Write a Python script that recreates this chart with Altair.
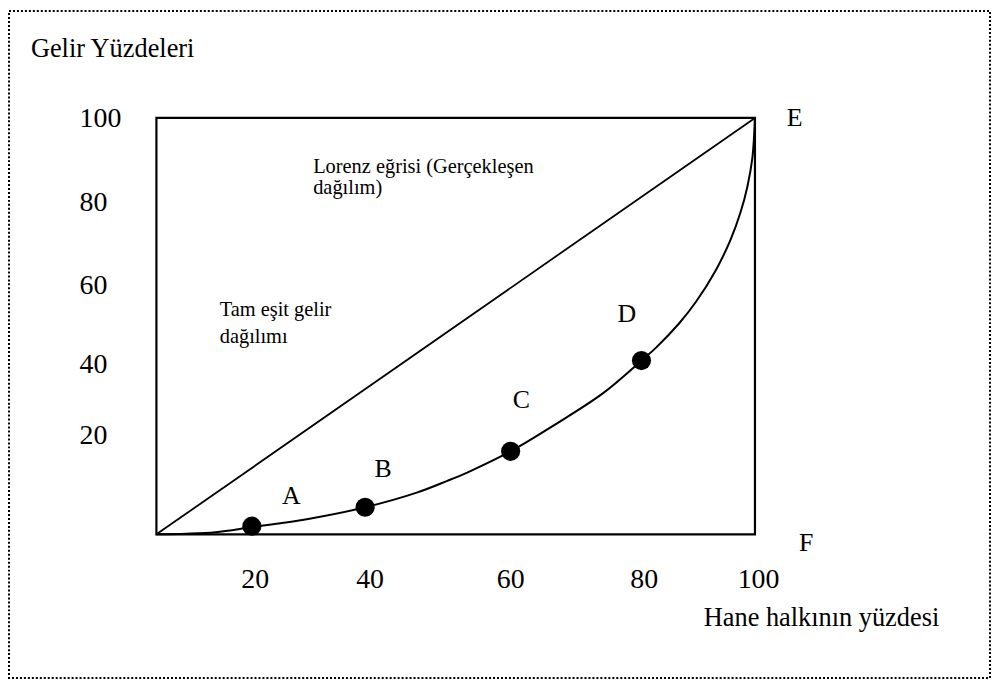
import altair as alt
import pandas as pd

FONT = "Liberation Serif"

# Lorenz curve marked points
point_names = ["A", "B", "C", "D"]
point_x = [15.94, 34.87, 59.18, 81.04]
point_y = [1.96, 6.49, 19.93, 41.72]

# Lorenz curve (realised distribution)
curve_x = [0, 5.0, 9.86, 16.0, 25.36, 34.87, 43.62, 48.6, 51.93, 59.18, 66.87, 74.63, 81.04,
           83.48, 87.35, 90.12, 93.44, 95.93, 97.59, 98.75, 99.58, 100]
curve_y = [0, 0.15, 0.52, 1.75, 3.7, 6.49, 10.07, 12.84, 14.84, 19.93, 26.6, 33.9, 41.72,
           44.84, 50.69, 55.78, 63.37, 70.79, 77.33, 83.6, 90.5, 100]

# Perfect equality line
equal_x = [0, 100]
equal_y = [0, 100]

# Tick labels (as drawn in the figure)
y_tick_labels = ["100", "80", "60", "40", "20"]
y_tick_pos = [97.7, 77.6, 57.8, 38.7, 21.6]
x_tick_labels = ["20", "40", "60", "80", "100"]
x_tick_pos = [16.5, 35.7, 59.2, 81.5, 100.6]

# Letter labels
letter_names = ["A", "B", "C", "D", "E", "F"]
letter_x = [22.53, 37.89, 60.98, 78.61, 106.64, 108.55]
letter_y = [7.28, 13.72, 30.43, 51.03, 97.97, -3.94]

# Axis titles
title_texts = ["Gelir Yüzdeleri", "Hane halkının yüzdesi"]
title_x = [-20.97, 91.45]
title_y = [114.7, -22.1]

# Annotations
note_texts = ["Lorenz eğrisi (Gerçekleşen", "dağılım)", "Tam eşit gelir", "dağılımı"]
note_x = [26.19, 26.19, 10.58, 10.58]
note_y = [86.75, 81.67, 52.46, 46.01]

xs = alt.Scale(domain=[-24.63, 139.27], nice=False, zero=False)
ys = alt.Scale(domain=[-34.49, 125.66], nice=False, zero=False)


def X(f="x"):
    return alt.X(f"{f}:Q", scale=xs, axis=None)


def Y(f="y"):
    return alt.Y(f"{f}:Q", scale=ys, axis=None)


box_df = pd.DataFrame({"x": [0], "x2": [100], "y": [0], "y2": [100]})
box = alt.Chart(box_df).mark_rect(filled=False, stroke="black", strokeWidth=2.2).encode(
    x=X(), x2="x2:Q", y=Y(), y2="y2:Q"
)

equal = alt.Chart(pd.DataFrame({"x": equal_x, "y": equal_y})).mark_line(
    color="black", strokeWidth=1.8
).encode(x=X(), y=Y())

curve = alt.Chart(pd.DataFrame({"x": curve_x, "y": curve_y, "o": list(range(len(curve_x)))})).mark_line(
    color="black", strokeWidth=2, interpolate="catmull-rom"
).encode(x=X(), y=Y(), order="o:Q")

points = alt.Chart(pd.DataFrame({"x": point_x, "y": point_y, "n": point_names})).mark_circle(
    color="black", opacity=1, size=370
).encode(x=X(), y=Y())

ytick = alt.Chart(pd.DataFrame({"x": [-12.84] * 5, "y": y_tick_pos, "t": y_tick_labels})).mark_text(
    font=FONT, fontSize=28, align="left", baseline="alphabetic", color="black"
).encode(x=X(), y=Y(), text="t:N")

xtick = alt.Chart(pd.DataFrame({"x": x_tick_pos, "y": [-13.0] * 5, "t": x_tick_labels})).mark_text(
    font=FONT, fontSize=28, align="center", baseline="alphabetic", color="black"
).encode(x=X(), y=Y(), text="t:N")

letters = alt.Chart(pd.DataFrame({"x": letter_x, "y": letter_y, "t": letter_names})).mark_text(
    font=FONT, fontSize=26, align="center", baseline="alphabetic", color="black"
).encode(x=X(), y=Y(), text="t:N")

titles = alt.Chart(pd.DataFrame({"x": title_x, "y": title_y, "t": title_texts})).mark_text(
    font=FONT, fontSize=26.5, align="left", baseline="alphabetic", color="black"
).encode(x=X(), y=Y(), text="t:N")

notes = alt.Chart(pd.DataFrame({"x": note_x, "y": note_y, "t": note_texts})).mark_text(
    font=FONT, fontSize=20.5, align="left", baseline="alphabetic", color="black"
).encode(x=X(), y=Y(), text="t:N")

chart = alt.layer(box, equal, curve, points, ytick, xtick, letters, titles, notes).properties(
    width=987,
    height=671,
    padding={"left": 1, "top": 1, "right": 1, "bottom": 1},
    autosize=alt.AutoSizeParams(type="none"),
    background="white",
).configure_view(
    stroke="black", strokeWidth=2, strokeDash=[2, 2]
)

chart.save("out.html", embed_options={"renderer": "svg", "actions": False})
